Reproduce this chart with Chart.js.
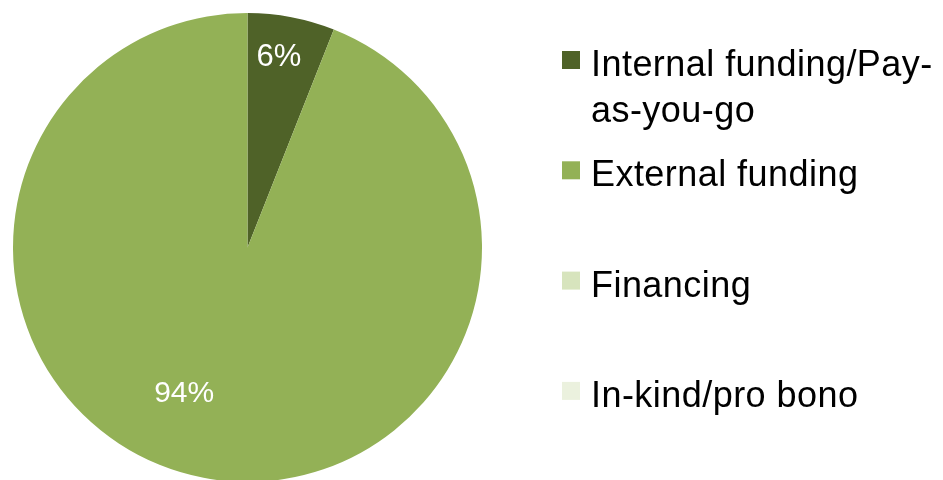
<!DOCTYPE html>
<html>
<head>
<meta charset="utf-8">
<script src="https://cdn.jsdelivr.net/npm/chart.js@4/dist/chart.umd.min.js"></script>
<style>
  html, body { margin: 0; padding: 0; background: #ffffff; }
  #wrap { width: 943px; height: 480px; position: relative; }
</style>
</head>
<body>
<div id="wrap"><canvas id="c" width="943" height="480"></canvas></div>
<script>
const categories = ["Internal funding/Pay-as-you-go", "External funding", "Financing", "In-kind/pro bono"];
const shares = [6, 94, 0, 0];
const valueLabels = ["6%", "94%", "", ""];
const sliceColors = ["#4F6228", "#93B156", "#D7E4BD", "#EBF1DE"];

const FONT = "'Liberation Sans', Arial, Helvetica, sans-serif";

const sliceLabelPlugin = {
  id: 'sliceLabels',
  afterDatasetsDraw(chart, args, opts) {
    const ctx = chart.ctx;
    const meta = chart.getDatasetMeta(0);
    ctx.save();
    ctx.fillStyle = '#ffffff';
    ctx.textAlign = 'center';
    ctx.textBaseline = 'middle';
    meta.data.forEach((arc, i) => {
      const txt = valueLabels[i];
      if (!txt || !chart.data.datasets[0].data[i]) return;
      const p = arc.getProps(['x', 'y', 'startAngle', 'endAngle', 'outerRadius'], true);
      const mid = (p.startAngle + p.endAngle) / 2 + (opts.shift[i] || 0) * Math.PI / 180;
      const r = p.outerRadius * (opts.radial[i] || 0.7);
      ctx.font = opts.sizes[i] + 'px ' + FONT;
      ctx.fillText(txt, p.x + Math.cos(mid) * r, p.y + Math.sin(mid) * r);
    });
    ctx.restore();
  }
};

const sideLegendPlugin = {
  id: 'sideLegend',
  afterDraw(chart, args, opts) {
    const ctx = chart.ctx;
    const ds = chart.data.datasets[0];
    ctx.save();
    ctx.font = opts.fontSize + 'px ' + FONT;
    if ('letterSpacing' in ctx) ctx.letterSpacing = opts.letterSpacing + 'px';
    ctx.textBaseline = 'alphabetic';
    ctx.textAlign = 'left';
    chart.data.labels.forEach((lab, i) => {
      const top = opts.top + i * opts.step;
      ctx.fillStyle = ds.backgroundColor[i];
      ctx.fillRect(opts.boxX, top, opts.box, opts.box);
      const tokens = lab.match(/[^\s\-]+[\-]?\s*|[\-]\s*/g) || [lab];
      const lines = [];
      let cur = '';
      tokens.forEach(t => {
        const trial = cur + t;
        if (cur && ctx.measureText(trial.trimEnd()).width > opts.maxWidth) {
          lines.push(cur.trimEnd());
          cur = t;
        } else {
          cur = trial;
        }
      });
      if (cur) lines.push(cur.trimEnd());
      ctx.fillStyle = opts.color;
      lines.forEach((ln, k) => {
        ctx.fillText(ln, opts.textX, top + opts.baselineOffset + k * opts.lineHeight);
      });
    });
    ctx.restore();
  }
};

new Chart(document.getElementById('c'), {
  type: 'pie',
  data: {
    labels: categories,
    datasets: [{
      data: shares,
      backgroundColor: sliceColors,
      borderWidth: 0,
      radius: 234.5
    }]
  },
  options: {
    responsive: false,
    animation: false,
    layout: { padding: { left: 13, right: 461, top: 15, bottom: 0 } },
    plugins: {
      legend: { display: false },
      tooltip: { enabled: false },
      sliceLabels: { radial: [0.82, 0.68], shift: [-1.4, 12.6], sizes: [31, 30] },
      sideLegend: {
        boxX: 562, box: 18, top: 51, step: 110.3, textX: 591,
        baselineOffset: 25, lineHeight: 46, fontSize: 36, letterSpacing: 0.45,
        maxWidth: 350, color: '#000000'
      }
    }
  },
  plugins: [sliceLabelPlugin, sideLegendPlugin]
});
</script>
</body>
</html>
